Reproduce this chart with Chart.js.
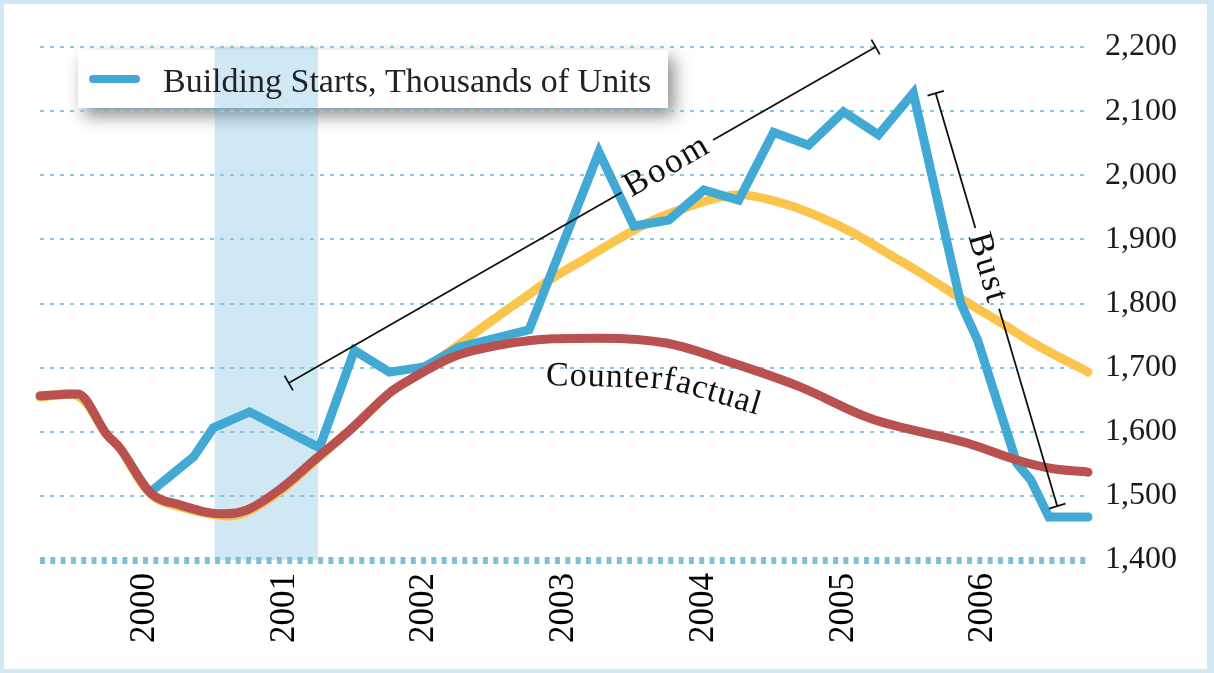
<!DOCTYPE html>
<html>
<head>
<meta charset="utf-8">
<title>Building Starts</title>
<script src="https://cdn.jsdelivr.net/npm/chart.js@4.4.1/dist/chart.umd.min.js"></script>
<style>
    html, body { margin: 0; padding: 0; background: #cfe8f3; }
    #frame { position: absolute; left: 4px; top: 4px; width: 1203px; height: 665px; background: #fff; }
</style>
</head>
<body>
<div id="frame"><canvas id="myChart"></canvas></div>
<script>
// building starts, thousands of units
let starts_x = [2000.04, 2000.35, 2000.49, 2000.75, 2001.25, 2001.5, 2001.75, 2002.0, 2002.25, 2002.75,
    2003.25, 2003.5, 2003.75, 2004.0, 2004.25, 2004.5, 2004.75, 2005.0, 2005.25, 2005.5,
    2005.84, 2005.96, 2006.24, 2006.34, 2006.47, 2006.75];
let starts_y = [1506, 1561, 1606, 1631, 1575, 1727, 1693, 1701, 1732, 1759,
    2036, 1921, 1930, 1977, 1961, 2067, 2047, 2099, 2063, 2128,
    1800, 1743, 1551, 1525, 1467, 1467];
// yellow curve (trend)
let trend_x = [1999.25, 1999.52, 1999.73, 1999.82, 2000.04, 2000.25, 2000.56, 2000.73, 2000.99, 2001.23,
    2001.47, 2001.76, 2001.92, 2002.21, 2002.45, 2002.69, 2002.92, 2003.17, 2003.40, 2003.64,
    2003.88, 2004.12, 2004.31, 2004.60, 2004.83, 2005.07, 2005.31, 2005.55, 2005.89, 2006.12,
    2006.36, 2006.75];
let trend_y = [1654, 1656, 1595, 1575, 1503, 1483, 1469, 1475, 1511, 1557,
    1603, 1662, 1684, 1730, 1768, 1805, 1840, 1872, 1902, 1930,
    1950, 1966, 1969, 1954, 1935, 1910, 1879, 1848, 1801, 1771,
    1738, 1693];
// red curve (counterfactual)
let counter_x = [1999.25, 1999.52, 1999.73, 1999.82, 2000.04, 2000.25, 2000.56, 2000.73, 2000.99, 2001.23,
    2001.47, 2001.76, 2001.92, 2002.21, 2002.56, 2002.92, 2003.26, 2003.74, 2004.21, 2004.69,
    2005.19, 2005.89, 2006.24, 2006.48, 2006.75];
let counter_y = [1656, 1659, 1595, 1575, 1505, 1486, 1472, 1478, 1514, 1559,
    1603, 1662, 1684, 1717, 1736, 1745, 1746, 1738, 1707, 1670,
    1621, 1582, 1556, 1543, 1537];
let year_ticks = [2000, 2001, 2002, 2003, 2004, 2005, 2006];
let recession = [2000.5, 2001.24];

// annotation anchors in data units
let boom_line = [[2001.03, 1676], [2005.23, 2200]];
let bust_line = [[2005.66, 2128], [2006.53, 1484]];
let counter_label = [2002.87, 1673];

const serif = '"Liberation Serif", "Times New Roman", serif';
const to_points = (xs, ys) => xs.map((v, i) => ({ x: v, y: ys[i] }));

function bracket(ctx, p0, p1, text, t) {
    let dx = p1.x - p0.x, dy = p1.y - p0.y;
    let len = Math.hypot(dx, dy);
    let ux = dx / len, uy = dy / len;
    let nx = -uy, ny = ux;
    ctx.font = '35px ' + serif;
    ctx.letterSpacing = '2px';
    let w = ctx.measureText(text).width;
    let cx = p0.x + dx * t, cy = p0.y + dy * t;
    let gap = w / 2 + 6;
    ctx.strokeStyle = '#111';
    ctx.lineWidth = 1.8;
    ctx.beginPath();
    ctx.moveTo(p0.x, p0.y);
    ctx.lineTo(cx - ux * gap, cy - uy * gap);
    ctx.moveTo(cx + ux * gap, cy + uy * gap);
    ctx.lineTo(p1.x, p1.y);
    for (let p of [p0, p1]) {
        ctx.moveTo(p.x - nx * 8.5, p.y - ny * 8.5);
        ctx.lineTo(p.x + nx * 8.5, p.y + ny * 8.5);
    }
    ctx.stroke();
    ctx.save();
    ctx.translate(cx, cy);
    ctx.rotate(Math.atan2(dy, dx));
    ctx.fillStyle = '#111';
    ctx.textAlign = 'center';
    ctx.textBaseline = 'middle';
    ctx.fillText(text, 0, 0);
    ctx.restore();
    ctx.letterSpacing = '0px';
}

function curved_text(ctx, str, x, y) {
    ctx.font = '34px ' + serif;
    ctx.fillStyle = '#111';
    ctx.textAlign = 'left';
    ctx.textBaseline = 'alphabetic';
    let s = 0;
    for (let ch of str) {
        let w = ctx.measureText(ch).width + 1;
        let a = (1.5 + 15 * Math.min(Math.max((s - 95) / 40, 0), 1)) * Math.PI / 180;
        ctx.save();
        ctx.translate(x, y);
        ctx.rotate(a);
        ctx.fillText(ch, 0, 0);
        ctx.restore();
        x += Math.cos(a) * w;
        y += Math.sin(a) * w;
        s += w;
    }
}

const overlay = {
    id: 'overlay',
    beforeDraw(chart) {
        let { ctx, chartArea, scales } = chart;
        // legend box with drop shadow
        ctx.save();
        ctx.shadowColor = 'rgba(0,0,0,0.45)';
        ctx.shadowBlur = 16;
        ctx.shadowOffsetX = 6;
        ctx.shadowOffsetY = 8;
        ctx.fillStyle = '#fff';
        ctx.fillRect(74, 46, 590, 58);
        ctx.restore();
        // recession band
        let x0 = scales.x.getPixelForValue(recession[0]);
        let x1 = scales.x.getPixelForValue(recession[1]);
        ctx.fillStyle = 'rgba(80,170,215,0.27)';
        ctx.fillRect(x0, chartArea.top, x1 - x0, chartArea.bottom - chartArea.top);
    },
    afterDatasetsDraw(chart) {
        let { ctx, scales } = chart;
        let px = p => ({ x: scales.x.getPixelForValue(p[0]), y: scales.y.getPixelForValue(p[1]) });
        ctx.save();
        // legend entry
        let ds = chart.data.datasets[0];
        ctx.strokeStyle = ds.borderColor;
        ctx.lineWidth = 8;
        ctx.lineCap = 'round';
        ctx.beginPath();
        ctx.moveTo(89, 75);
        ctx.lineTo(132, 75);
        ctx.stroke();
        ctx.lineCap = 'butt';
        ctx.font = '34px ' + serif;
        ctx.fillStyle = '#222';
        ctx.textBaseline = 'alphabetic';
        ctx.fillText(ds.label, 159, 88);
        // annotations
        bracket(ctx, px(boom_line[0]), px(boom_line[1]), 'Boom', 0.645);
        bracket(ctx, px(bust_line[0]), px(bust_line[1]), 'Bust', 0.424);
        let c = px(counter_label);
        curved_text(ctx, 'Counterfactual', c.x, c.y);
        ctx.restore();
    }
};

var ctx = document.getElementById('myChart');
var chart = new Chart(ctx, {
    type: 'line',
    data: {
        datasets: [
            {
                label: 'Building Starts, Thousands of Units',
                data: to_points(starts_x, starts_y),
                borderColor: '#41a9d4',
                borderWidth: 9,
                borderCapStyle: 'round',
                borderJoinStyle: 'miter',
                pointRadius: 0,
                tension: 0,
                clip: false,
                order: 1
            },
            {
                label: 'Trend',
                data: to_points(trend_x, trend_y),
                borderColor: '#fbc44d',
                borderWidth: 9,
                borderCapStyle: 'round',
                borderJoinStyle: 'round',
                pointRadius: 0,
                tension: 0.35,
                clip: false,
                order: 2
            },
            {
                label: 'Counterfactual',
                data: to_points(counter_x, counter_y),
                borderColor: '#b85150',
                borderWidth: 9,
                borderCapStyle: 'round',
                borderJoinStyle: 'round',
                pointRadius: 0,
                cubicInterpolationMode: 'monotone',
                clip: false,
                order: 0
            }
        ]
    },
    options: {
        responsive: true,
        maintainAspectRatio: false,
        animation: false,
        events: [],
        layout: { padding: { left: 36, top: 43, right: 0, bottom: 0 } },
        scales: {
            x: {
                type: 'linear',
                min: 1999.25,
                max: 2006.75,
                afterBuildTicks: s => { s.ticks = year_ticks.map(v => ({ value: v })); },
                afterFit: s => { s.height = 109; },
                grid: { display: false, drawTicks: false },
                border: { display: false },
                ticks: {
                    minRotation: 90,
                    maxRotation: 90,
                    padding: 13,
                    color: '#000',
                    font: { family: serif, size: 35 },
                    callback: v => String(v)
                }
            },
            y: {
                position: 'right',
                min: 1400,
                max: 2200,
                afterFit: s => { s.width = 119; },
                grid: {
                    drawTicks: false,
                    color: c => c.tick && c.tick.value === 1400 ? '#7dc1d9' : '#8ac8de',
                    lineWidth: c => c.tick && c.tick.value === 1400 ? 7 : 2
                },
                border: {
                    display: false,
                    dash: c => c.tick && c.tick.value === 1400 ? [5, 5.3] : [4, 6]
                },
                ticks: {
                    stepSize: 100,
                    padding: 17,
                    color: '#1a1a1a',
                    font: { family: serif, size: 32 },
                    callback: v => v.toLocaleString('en-US')
                }
            }
        },
        plugins: {
            legend: { display: false },
            tooltip: { enabled: false }
        }
    },
    plugins: [overlay]
});
</script>
</body>
</html>
